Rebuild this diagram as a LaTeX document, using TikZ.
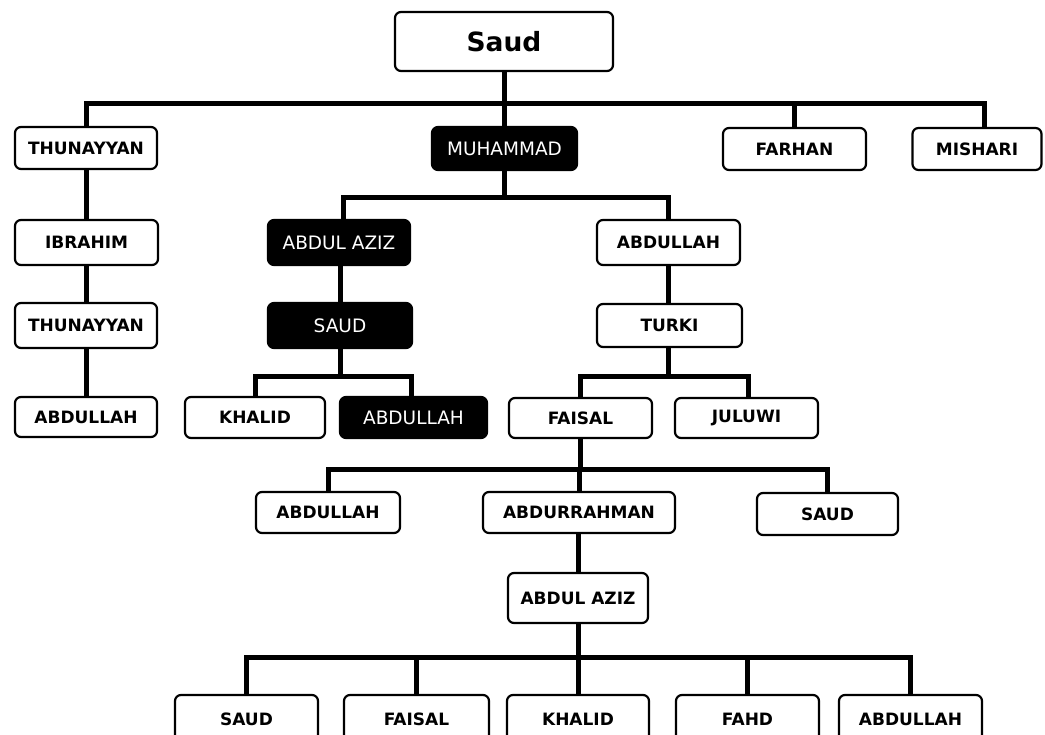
\documentclass[tikz,border=0pt]{standalone}
\usepackage{fontspec}
\setmainfont{DejaVu Sans}
\tikzset{
  person/.style={draw=black, line width=2.2pt, rounded corners=6pt, fill=white,
    inner sep=0pt, text=black, font=\fontsize{17}{20}\selectfont\bfseries},
  ruler/.style={person, fill=black, text=white,
    font=\fontsize{18.5}{21}\selectfont},
  link/.style={line width=5pt, line join=miter, draw=black},
}
\begin{document}
\begin{tikzpicture}[x=1pt, y=-1pt]
\useasboundingbox (0,0) rectangle (1045,735);
\fill[white] (0,0) rectangle (1045,735);

% generation 0
\node[person, minimum width=218pt, minimum height=59pt,
      font=\fontsize{26.5}{30}\selectfont\bfseries] (saud) at (504,41.5) {Saud};

% generation 1
\node[person, minimum width=142pt, minimum height=42pt] (thu1) at (86,148) {THUNAYYAN};
\node[ruler,  minimum width=145pt, minimum height=43pt] (muh) at (504.5,148.5) {MUHAMMAD};
\node[person, minimum width=143pt, minimum height=42pt] (far) at (794.5,149) {FARHAN};
\node[person, minimum width=129pt, minimum height=42pt] (mis) at (977,149) {MISHARI};

% generation 2
\node[person, minimum width=143pt, minimum height=45pt] (ibr) at (86.5,242.5) {IBRAHIM};
\node[ruler,  minimum width=142pt, minimum height=45pt] (aaz1) at (339,242.5) {ABDUL AZIZ};
\node[person, minimum width=143pt, minimum height=45pt] (abd1) at (668.5,242.5) {ABDULLAH};

% generation 3
\node[person, minimum width=142pt, minimum height=45pt] (thu2) at (86,325.5) {THUNAYYAN};
\node[ruler,  minimum width=144pt, minimum height=45pt] (saud2) at (340,325.5) {SAUD};
\node[person, minimum width=145pt, minimum height=43pt] (turki) at (669.5,325.5) {TURKI};

% generation 4
\node[person, minimum width=142pt, minimum height=40pt] (abd2) at (86,417) {ABDULLAH};
\node[person, minimum width=140pt, minimum height=41pt] (khalid) at (255,417.5) {KHALID};
\node[ruler,  minimum width=147pt, minimum height=41pt] (abd3) at (413.5,417.5) {ABDULLAH};
\node[person, minimum width=143pt, minimum height=40pt] (faisal) at (580.5,418) {FAISAL};
\node[person, minimum width=143pt, minimum height=40pt] (juluwi) at (746.5,418) {JULUWI};

% generation 5
\node[person, minimum width=144pt, minimum height=41pt] (abd4) at (328,512.5) {ABDULLAH};
\node[person, minimum width=192pt, minimum height=41pt] (abdur) at (579,512.5) {ABDURRAHMAN};
\node[person, minimum width=141pt, minimum height=42pt] (saud3) at (827.5,514) {SAUD};

% generation 6
\node[person, minimum width=140pt, minimum height=50pt] (aaz2) at (578,598) {ABDUL AZIZ};

% generation 7
\node[person, minimum width=143pt, minimum height=48pt] (saud4) at (246.5,719) {SAUD};
\node[person, minimum width=145pt, minimum height=48pt] (faisal2) at (416.5,719) {FAISAL};
\node[person, minimum width=142pt, minimum height=48pt] (khalid2) at (578,719) {KHALID};
\node[person, minimum width=143pt, minimum height=48pt] (fahd) at (747.5,719) {FAHD};
\node[person, minimum width=143pt, minimum height=48pt] (abd5) at (910.5,719) {ABDULLAH};

% junction points of the family bars
\coordinate (j1) at (saud.south |- 0,104);
\coordinate (j2) at (muh.south |- 0,198);
\coordinate (j3) at (saud2.south |- 0,377);
\coordinate (j4) at (abd1.south |- 0,377);
\coordinate (j5) at (faisal.south |- 0,469);
\coordinate (j6) at (aaz2.south |- 0,657);

% sons of Saud
\draw[link] (saud.south) -- (j1);
\draw[link] (j1) -| (thu1.north);
\draw[link] (j1) -| (muh.north);
\draw[link] (j1) -| (far.north);
\draw[link] (j1) -| ([xshift=7pt]mis.north);

% line of Thunayyan
\draw[link] (thu1.south) -- (thu1.south |- ibr.north);
\draw[link] (ibr.south -| thu1.south) -- (thu1.south |- thu2.north);
\draw[link] (thu2.south -| thu1.south) -- (thu1.south |- abd2.north);

% sons of Muhammad
\draw[link] (muh.south) -- (j2);
\draw[link] (j2) -| ([xshift=4pt]aaz1.north);
\draw[link] (j2) -| (abd1.north);

% line of Abdul Aziz
\draw[link] (aaz1.south -| saud2.north) -- (saud2.north);
\draw[link] (saud2.south) -- (j3);
\draw[link] (j3) -| (khalid.north);
\draw[link] (j3) -| ([xshift=-2.5pt]abd3.north);

% line of Abdullah
\draw[link] (abd1.south) -- (abd1.south |- turki.north);
\draw[link] (turki.south -| abd1.south) -- (j4);
\draw[link] (j4) -| (faisal.north);
\draw[link] (j4) -| ([xshift=1.5pt]juluwi.north);

% sons of Faisal
\draw[link] (faisal.south) -- (j5);
\draw[link] (j5) -| (abd4.north);
\draw[link] (j5) -| (abdur.north);
\draw[link] (j5) -| (saud3.north);
\draw[link] (abdur.south -| aaz2.north) -- (aaz2.north);

% sons of Abdul Aziz
\draw[link] (aaz2.south) -- (j6);
\draw[link] (j6) -| (saud4.north);
\draw[link] (j6) -| (faisal2.north);
\draw[link] (j6) -| (khalid2.north);
\draw[link] (j6) -| (fahd.north);
\draw[link] (j6) -| (abd5.north);
\end{tikzpicture}
\end{document}
